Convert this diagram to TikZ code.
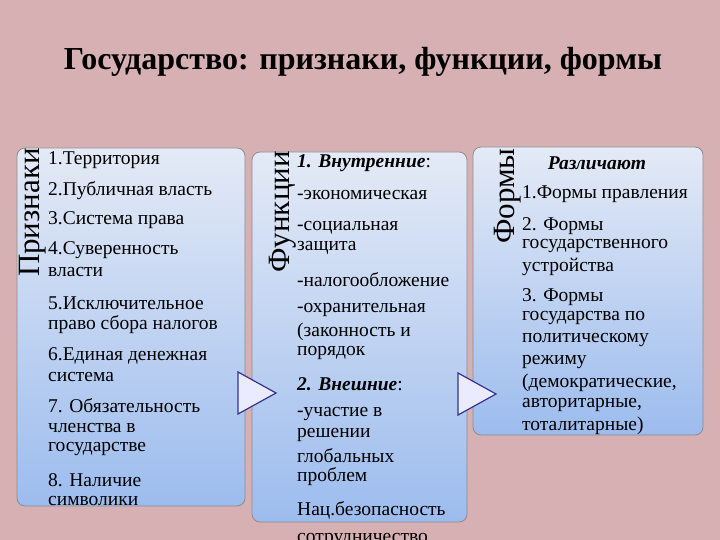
\documentclass[tikz,border=0pt]{standalone}
\usepackage{fontspec}
\setmainfont{Liberation Serif}
\definecolor{bg}{HTML}{D7B0B3}
\definecolor{btop}{HTML}{E4EAF6}
\definecolor{bbot}{HTML}{9CBCEE}
\begin{document}
\begin{tikzpicture}[x=1pt,y=-1pt,
  box/.style={draw=black!45,line width=0.8pt,rounded corners=8pt,top color=btop,bottom color=bbot},
  itm/.style={anchor=west,inner sep=0pt,font=\fontsize{19.5}{19.5}\selectfont},
  vlab/.style={rotate=90,anchor=east,inner sep=0pt,font=\fontsize{31}{31}\selectfont},
  tri/.style={draw=black!40!blue!60!gray,line width=1.2pt,fill=white!92!blue}]
\fill[bg] (0,0) rectangle (720,540);
\useasboundingbox (0,0) rectangle (720,540);
\node[font=\bfseries\fontsize{32}{32}\selectfont] (title) at (363,62) {Государство: признаки, функции, формы};
\path[box] (17,148) rectangle (245,506);
\path[box] (252,152) rectangle (467,522);
\path[box] (473,147) rectangle (703,435);
\node[vlab] (l1) at (33,148) {Признаки};
\node[vlab] (l2) at (283,151) {Функции};
\node[vlab] (l3) at (508,148) {Формы};
\foreach \y/\t [count=\i] in {160/1.Территория,191/2.Публичная власть,220/3.Система права,250/4.Суверенность,272/власти,303/5.Исключительное,325/право сбора налогов,356/6.Единая денежная,377/система,406/7. Обязательность,428/членства в,449/государстве,480/8. Наличие,501/символики}
  \node[itm] (a\i) at (48,\y) {\t};
\node[itm] (b0) at (297,163) {\textbf{\textit{1. Внутренние}}:};
\foreach \y/\t [count=\i] in {195/-экономическая,228/-социальная,248/защита,280/-налогообложение,310/-охранительная,332/(законность и,353/порядок,414/-участие в,435/решении,456/глобальных,477/проблем,510/Нац.безопасность,540/сотрудничество}
  \node[itm] (b\i) at (297,\y) {\t};
\node[itm] (bb) at (297,384) {\textbf{\textit{2. Внешние}}:};
\node[font=\bfseries\itshape\fontsize{19.5}{19.5}\selectfont] (c0) at (597,163) {Различают};
\foreach \y/\t [count=\i] in {194/1.Формы правления,226/2. Формы,246/государственного,267/устройства,297/3. Формы,318/государства по,340/политическому,362/режиму,383/{(демократические,},405/{авторитарные,},426/тоталитарные)}
  \node[itm] (c\i) at (522,\y) {\t};
\path[tri] (238,372) -- (276,393) -- (238,414) -- cycle;
\path[tri] (458,373) -- (496,394) -- (458,415) -- cycle;
\end{tikzpicture}
\end{document}
